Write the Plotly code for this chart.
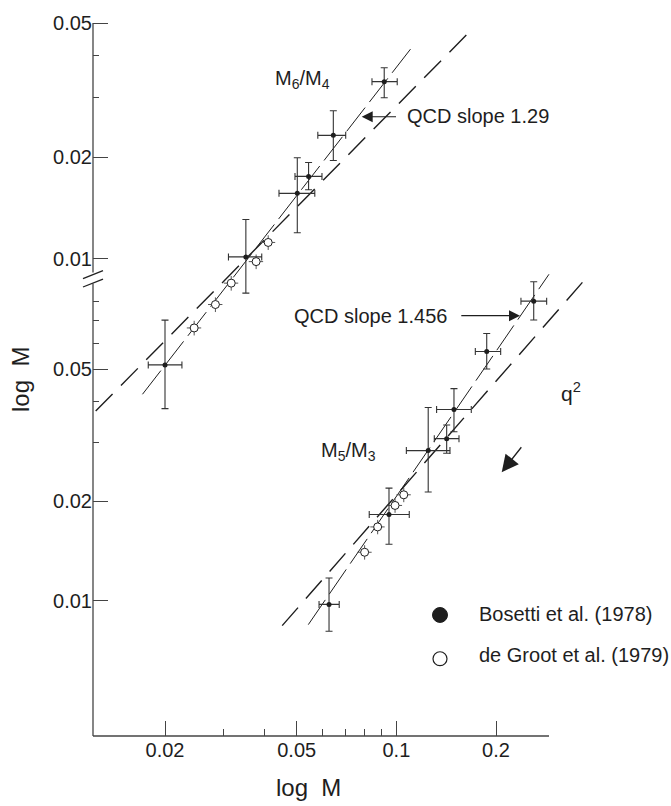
import math
import plotly.graph_objects as go

# ---------------- data ----------------
# Upper series M6/M4 (plotted against the upper y scale)
up_bos_x = [0.0200, 0.0351, 0.0502, 0.0543, 0.0645, 0.0919]
up_bos_xlo = [0.0178, 0.0311, 0.0442, 0.0494, 0.0579, 0.0844]
up_bos_xhi = [0.0225, 0.0392, 0.0567, 0.0596, 0.0703, 0.1006]
up_bos_y = [0.00484, 0.01012, 0.01562, 0.01754, 0.02321, 0.0335]
up_bos_ylo = [0.00359, 0.00790, 0.01193, 0.01601, 0.01955, 0.0300]
up_bos_yhi = [0.00657, 0.01306, 0.01993, 0.01929, 0.02746, 0.03684]

up_grt_x = [0.0245, 0.0284, 0.0317, 0.0377, 0.0410]
up_grt_y = [0.00623, 0.00731, 0.00846, 0.00980, 0.01117]

# Lower series M5/M3 (plotted against the lower y scale)
lo_bos_x = [0.0626, 0.0950, 0.1248, 0.1419, 0.1493, 0.1875, 0.2600]
lo_bos_xlo = [0.0584, 0.0828, 0.1072, 0.1302, 0.1323, 0.1732, 0.2379]
lo_bos_xhi = [0.0672, 0.1094, 0.1452, 0.1546, 0.1684, 0.2066, 0.2845]
lo_bos_y = [0.00975, 0.01821, 0.02841, 0.03087, 0.0378, 0.0566, 0.0803]
lo_bos_ylo = [0.00809, 0.01481, 0.02129, 0.02788, 0.03239, 0.05008, 0.07042]
lo_bos_yhi = [0.01172, 0.02189, 0.03833, 0.03393, 0.0437, 0.0641, 0.09185]

lo_grt_x = [0.0802, 0.0878, 0.0991, 0.1053]
lo_grt_y = [0.01401, 0.01671, 0.0194, 0.02089]

# Reference lines (end points)
up_q2_x = [0.01235, 0.1632]
up_q2_y = [0.00353, 0.0462]
up_qcd_x = [0.0171, 0.1125]
up_qcd_y = [0.00396, 0.04287]
lo_q2_x = [0.0452, 0.3758]
lo_q2_y = [0.00841, 0.09462]
lo_qcd_x = [0.0542, 0.2891]
lo_qcd_y = [0.00847, 0.0968]

x_ticks = [0.02, 0.05, 0.1, 0.2]
x_ticktext = ["0.02", "0.05", "0.1", "0.2"]
x_minor = [0.03, 0.04, 0.06, 0.07, 0.08, 0.09]
y_ticks = [0.01, 0.02, 0.05]
y_ticktext = ["0.01", "0.02", "0.05"]
up_y_minor = [0.03, 0.04]
lo_y_minor = [0.03, 0.04, 0.06, 0.07, 0.08]

# ---------------- layout geometry ----------------
W_FIG, H_FIG = 671, 806
L, R, T, B = 93, 620, 12, 736
PW, PH = R - L, B - T

def pxx(x):
    return (x - L) / PW

def pyy(y):
    return (B - y) / PH

FONT = "Liberation Sans, Arial, Helvetica, sans-serif"
INK = "#1e1e1e"
BAR = "#333333"

def errs(v, lo, hi):
    return [h - c for c, h in zip(v, hi)], [c - l for c, l in zip(v, lo)]

fig = go.Figure()

# reference lines
for xs, ys, yax, dash, w in [
    (up_q2_x, up_q2_y, "y2", "24px,12px", 1.4),
    (up_qcd_x, up_qcd_y, "y2", "30px,7px", 1.0),
    (lo_q2_x, lo_q2_y, "y", "24px,12px", 1.4),
    (lo_qcd_x, lo_qcd_y, "y", "30px,7px", 1.0),
]:
    fig.add_trace(go.Scatter(x=xs, y=ys, yaxis=yax, mode="lines",
                             line=dict(color=INK, width=w, dash=dash),
                             showlegend=False, hoverinfo="skip"))

# de Groot open circles
for xs, ys, yax in [(up_grt_x, up_grt_y, "y2"), (lo_grt_x, lo_grt_y, "y")]:
    fig.add_trace(go.Scatter(
        x=xs, y=ys, yaxis=yax, mode="markers",
        marker=dict(symbol="circle", size=8, color="white",
                    line=dict(color=INK, width=1)),
        error_x=dict(type="percent", value=5, width=0, thickness=1, color="#555"),
        error_y=dict(type="percent", value=5, width=0, thickness=1, color="#555"),
        showlegend=False, name="de Groot et al. (1979)"))

# Bosetti filled points with error bars
for xs, xlo, xhi, ys, ylo, yhi, yax in [
    (up_bos_x, up_bos_xlo, up_bos_xhi, up_bos_y, up_bos_ylo, up_bos_yhi, "y2"),
    (lo_bos_x, lo_bos_xlo, lo_bos_xhi, lo_bos_y, lo_bos_ylo, lo_bos_yhi, "y"),
]:
    ex_p, ex_m = errs(xs, xlo, xhi)
    ey_p, ey_m = errs(ys, ylo, yhi)
    fig.add_trace(go.Scatter(
        x=xs, y=ys, yaxis=yax, mode="markers",
        marker=dict(symbol="circle", size=5, color=INK),
        error_x=dict(type="data", symmetric=False, array=ex_p, arrayminus=ex_m,
                     width=3.5, thickness=1.1, color=BAR),
        error_y=dict(type="data", symmetric=False, array=ey_p, arrayminus=ey_m,
                     width=3.5, thickness=1.1, color=BAR),
        showlegend=False, name="Bosetti et al. (1978)"))

# ---------------- axes ----------------
x_range = [math.log10(0.02) - (165 - L) / 331, math.log10(0.02) + (R - 165) / 331]
ylo_range = [-2 - (B - 600) / 333, -2 + (600 - T) / 333]
yup_range = [-2 - (B - 256) / 339, -2 + (256 - T) / 339]

tickfont = dict(family=FONT, size=20, color=INK)

fig.update_layout(
    width=W_FIG, height=H_FIG,
    margin=dict(l=L, r=W_FIG - R, t=T, b=H_FIG - B, pad=0),
    paper_bgcolor="white", plot_bgcolor="white",
    showlegend=False,
    font=dict(family=FONT, color=INK),
    xaxis=dict(type="log", range=x_range, showgrid=False, zeroline=False,
               showline=False, ticks="inside", ticklen=15, tickwidth=1.2,
               tickcolor="#444", tickmode="array", tickvals=x_ticks,
               ticktext=x_ticktext, tickfont=tickfont,
               minor=dict(tickmode="array", tickvals=x_minor, ticks="inside",
                          ticklen=7, tickwidth=1.2, tickcolor="#444")),
    yaxis=dict(type="log", range=ylo_range, showgrid=False, zeroline=False,
               showline=False, ticks="inside", ticklen=15, tickwidth=1.2,
               tickcolor="#444", tickmode="array", tickvals=y_ticks,
               ticktext=y_ticktext, tickfont=tickfont,
               minor=dict(tickmode="array", tickvals=lo_y_minor, ticks="inside",
                          ticklen=6, tickwidth=1.2, tickcolor="#444")),
    yaxis2=dict(type="log", range=yup_range, overlaying="y", side="left",
                anchor="x", showgrid=False, zeroline=False, showline=False,
                ticks="inside", ticklen=15, tickwidth=1.2, tickcolor="#444",
                tickmode="array", tickvals=y_ticks, ticktext=y_ticktext,
                tickfont=tickfont,
                minor=dict(tickmode="array", tickvals=up_y_minor, ticks="inside",
                           ticklen=6, tickwidth=1.2, tickcolor="#444")),
)

# ---------------- axis lines, break marks, legend symbols ----------------
AX = dict(color="#444", width=1.3)
shapes = [
    dict(type="line", xref="paper", yref="paper", x0=pxx(93), x1=pxx(549),
         y0=pyy(736), y1=pyy(736), line=AX),
    dict(type="line", xref="paper", yref="paper", x0=0, x1=0,
         y0=pyy(736), y1=pyy(281), line=AX),
    dict(type="line", xref="paper", yref="paper", x0=0, x1=0,
         y0=pyy(270), y1=pyy(19), line=AX),
    dict(type="line", xref="paper", yref="paper", x0=pxx(83), x1=pxx(103),
         y0=pyy(276), y1=pyy(268), line=dict(color="#222", width=1.3)),
    dict(type="line", xref="paper", yref="paper", x0=pxx(83), x1=pxx(103),
         y0=pyy(284.5), y1=pyy(276.5), line=dict(color="#222", width=1.3)),
    dict(type="circle", xref="paper", yref="paper", x0=pxx(432.5), x1=pxx(447.5),
         y0=pyy(621.8), y1=pyy(606.8), fillcolor=INK, line=dict(color=INK, width=1)),
    dict(type="circle", xref="paper", yref="paper", x0=pxx(433), x1=pxx(447),
         y0=pyy(665.3), y1=pyy(651.3), fillcolor="white", line=dict(color=INK, width=1.2)),
]
fig.update_layout(shapes=shapes)

def txt(x, y, s, size=20, xanchor="center", yanchor="middle", angle=0):
    return dict(x=pxx(x), y=pyy(y), xref="paper", yref="paper", text=s,
                showarrow=False, xanchor=xanchor, yanchor=yanchor, textangle=angle,
                font=dict(family=FONT, size=size, color=INK))

def arrow(tipx, tipy, tailx, taily, head=2, size=2.0, width=1.1):
    return dict(x=pxx(tipx), y=pyy(tipy), xref="paper", yref="paper", text=" ",
                showarrow=True, ax=tailx - tipx, ay=taily - tipy,
                arrowhead=head, arrowsize=size, arrowwidth=width, arrowcolor=INK,
                standoff=0, startstandoff=0, font=dict(size=2))

annotations = [
    txt(302, 76, "M<sub>6</sub>/M<sub>4</sub>", size=20),
    txt(405, 113, "QCD slope 1.29", xanchor="left"),
    arrow(361.7, 113.3, 398, 113.3),
    txt(448.5, 314, "QCD slope 1.456", xanchor="right"),
    arrow(520, 313.3, 459.3, 313.3),
    txt(348, 450, "M<sub>5</sub>/M<sub>3</sub>", size=20),
    txt(571, 390, "q<sup>2</sup>", size=21),
    arrow(501.7, 470.7, 523.3, 443.3, head=2, size=2.6, width=1.3),
    txt(476.5, 613.5, "Bosetti et al. (1978)", xanchor="left"),
    txt(476.5, 655, "de Groot et al. (1979)", xanchor="left"),
    txt(308, 788, "log  M", size=24),
    txt(21, 378, "log  M", size=24, angle=-90),
]
fig.update_layout(annotations=annotations)

fig.write_html("out.html",
               config={"displayModeBar": False},
               post_script="document.body.style.margin='0px';document.body.style.padding='0px';")
